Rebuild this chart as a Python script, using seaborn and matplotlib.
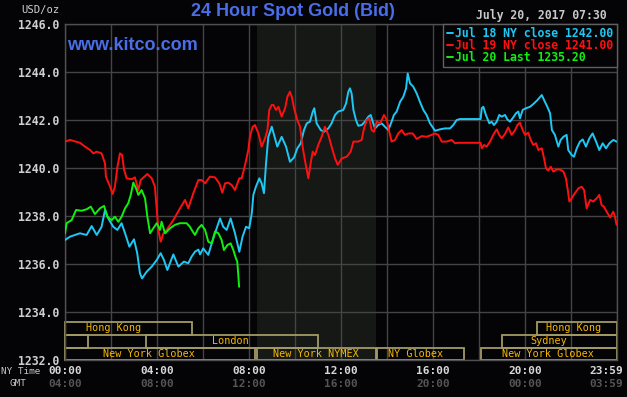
import matplotlib
matplotlib.use('Agg')
import matplotlib.pyplot as plt
import matplotlib.transforms as mtransforms
import seaborn as sns

# hours since NY midnight -> price (USD/oz)
jul18_hours = [0, 0.22, 0.43, 0.65, 0.94, 1.16, 1.38, 1.59, 1.74, 1.88, 2.10, 2.28, 2.46, 2.61, 2.80,
               3.0, 3.14, 3.26, 3.35, 3.55, 3.77, 3.99, 4.16, 4.30, 4.45, 4.71, 4.93, 5.17, 5.36, 5.50,
               5.65, 5.80, 5.87, 6.01, 6.23, 6.38, 6.52, 6.74, 6.88, 7.03, 7.20, 7.39, 7.58, 7.72, 7.87,
               8.01, 8.12, 8.19, 8.30, 8.45, 8.55, 8.65, 8.74, 8.84, 8.99, 9.13, 9.23, 9.42, 9.61, 9.78,
               9.96, 10.1, 10.25, 10.39, 10.51, 10.65, 10.77, 10.84, 10.94, 11.12, 11.26, 11.45, 11.59,
               11.74, 11.88, 12.10, 12.22, 12.32, 12.39, 12.46, 12.54, 12.65, 12.75, 12.90, 13.04, 13.19,
               13.29, 13.38, 13.48, 13.62, 13.77, 13.91, 14.06, 14.20, 14.30, 14.42, 14.57, 14.71, 14.83,
               14.90, 15.0, 15.14, 15.29, 15.43, 15.58, 15.72, 15.87, 16.09, 16.30, 16.52, 16.74, 16.88,
               17.03, 17.17, 17.35, 18.07, 18.12, 18.19, 18.30, 18.45, 18.55, 18.65, 18.77, 18.88, 18.99,
               19.13, 19.23, 19.35, 19.49, 19.61, 19.71, 19.78, 19.90, 20.04, 20.22, 20.39, 20.54, 20.73,
               20.83, 20.97, 21.09, 21.17, 21.30, 21.45, 21.55, 21.67, 21.81, 21.88, 22.03, 22.13, 22.25,
               22.39, 22.51, 22.65, 22.80, 22.94, 23.09, 23.23, 23.38, 23.52, 23.67, 23.84, 23.98]
jul18_price = [1237.00, 1237.14, 1237.21, 1237.28, 1237.21, 1237.58, 1237.21, 1237.55, 1238.25, 1237.90,
               1237.55, 1237.42, 1237.70, 1237.28, 1236.72, 1237.03, 1236.45, 1235.61, 1235.40, 1235.68,
               1235.89, 1236.17, 1236.45, 1236.17, 1235.75, 1236.40, 1235.89, 1236.10, 1236.03, 1236.30,
               1236.51, 1236.60, 1236.40, 1236.65, 1236.38, 1236.86, 1237.28, 1237.90, 1237.55, 1237.42,
               1237.90, 1237.28, 1236.51, 1237.14, 1237.55, 1237.49, 1238.11, 1238.88, 1239.22, 1239.57,
               1239.36, 1238.95, 1240.19, 1241.30, 1241.72, 1241.24, 1240.89, 1241.30, 1240.89, 1240.26,
               1240.44, 1240.82, 1241.03, 1241.58, 1241.86, 1241.93, 1242.34, 1242.49, 1241.86, 1241.58,
               1241.51, 1241.65, 1241.86, 1242.21, 1242.35, 1242.42, 1242.69, 1243.18, 1243.32, 1243.11,
               1242.42, 1242.00, 1241.76, 1241.79, 1241.93, 1242.14, 1242.21, 1241.93, 1241.65, 1241.79,
               1241.86, 1241.72, 1241.58, 1241.93, 1242.21, 1242.35, 1242.76, 1242.97, 1243.32, 1243.94,
               1243.53, 1243.39, 1243.11, 1242.76, 1242.42, 1242.21, 1241.86, 1241.55, 1241.61, 1241.65,
               1241.65, 1241.79, 1242.00, 1242.04, 1242.04, 1242.04, 1242.49, 1242.55, 1242.21, 1241.86,
               1241.93, 1241.79, 1241.93, 1242.21, 1242.14, 1242.21, 1242.03, 1241.93, 1242.11, 1242.28,
               1242.35, 1242.07, 1242.42, 1242.49, 1242.55, 1242.69, 1242.83, 1243.04, 1242.83, 1242.55,
               1242.28, 1241.58, 1241.38, 1240.89, 1241.17, 1241.30, 1241.38, 1240.75, 1240.54, 1240.47,
               1240.82, 1241.10, 1241.19, 1240.89, 1241.24, 1241.44, 1241.10, 1240.75, 1241.03, 1240.82,
               1241.03, 1241.17, 1241.10]

jul19_hours = [0, 0.22, 0.65, 0.87, 1.09, 1.23, 1.38, 1.59, 1.74, 1.78, 1.96, 2.07, 2.17, 2.28, 2.39,
               2.48, 2.57, 2.68, 2.90, 3.04, 3.19, 3.29, 3.58, 3.77, 3.91, 3.99, 4.06, 4.16, 4.28, 4.42,
               4.71, 5.0, 5.22, 5.36, 5.58, 5.80, 5.94, 6.09, 6.30, 6.52, 6.71, 6.84, 6.96, 7.10, 7.25,
               7.39, 7.58, 7.68, 7.83, 7.97, 8.04, 8.16, 8.26, 8.41, 8.55, 8.70, 8.80, 8.88, 8.99, 9.06,
               9.17, 9.28, 9.42, 9.57, 9.67, 9.78, 9.86, 9.96, 10.1, 10.22, 10.33, 10.43, 10.58, 10.68,
               10.77, 10.87, 11.01, 11.16, 11.30, 11.45, 11.59, 11.74, 11.86, 12.03, 12.25, 12.42, 12.54,
               12.75, 12.90, 13.0, 13.12, 13.23, 13.33, 13.43, 13.55, 13.70, 13.87, 13.99, 14.10, 14.20,
               14.35, 14.49, 14.64, 14.78, 14.93, 15.12, 15.29, 15.51, 15.72, 15.94, 16.09, 16.23, 16.38,
               16.59, 16.81, 16.96, 17.10, 17.35, 18.07, 18.12, 18.22, 18.33, 18.48, 18.62, 18.77, 18.88,
               18.99, 19.13, 19.27, 19.42, 19.57, 19.67, 19.78, 19.90, 20.0, 20.14, 20.25, 20.36, 20.48,
               20.58, 20.73, 20.83, 20.91, 21.01, 21.12, 21.23, 21.38, 21.52, 21.67, 21.78, 21.86, 21.93,
               22.03, 22.17, 22.32, 22.46, 22.57, 22.68, 22.83, 22.97, 23.12, 23.23, 23.33, 23.43, 23.55,
               23.70, 23.84, 23.91, 23.98]
jul19_price = [1241.10, 1241.17, 1241.05, 1240.89, 1240.75, 1240.61, 1240.68, 1240.61, 1240.19, 1239.64,
               1239.22, 1238.92, 1239.22, 1240.05, 1240.61, 1240.54, 1239.92, 1239.57, 1239.53, 1239.61,
               1239.08, 1239.50, 1239.75, 1239.57, 1239.22, 1238.25, 1237.42, 1236.93, 1237.28, 1237.42,
               1237.83, 1238.32, 1238.67, 1238.32, 1238.95, 1239.50, 1239.50, 1239.36, 1239.64, 1239.61,
               1239.36, 1238.97, 1239.36, 1239.39, 1239.29, 1239.08, 1239.57, 1239.57, 1240.13, 1240.75,
               1241.30, 1241.72, 1241.79, 1241.44, 1240.89, 1241.24, 1241.58, 1242.42, 1242.63, 1242.63,
               1242.42, 1242.55, 1242.14, 1242.49, 1242.97, 1243.18, 1242.97, 1242.49, 1242.00, 1241.72,
               1240.89, 1240.33, 1239.57, 1240.19, 1240.68, 1240.54, 1240.96, 1241.30, 1241.72, 1241.38,
               1240.89, 1240.40, 1240.13, 1240.40, 1240.47, 1240.68, 1241.10, 1241.10, 1241.17, 1241.65,
               1242.00, 1242.07, 1241.58, 1241.51, 1241.93, 1241.86, 1242.21, 1242.00, 1241.51, 1241.10,
               1241.17, 1241.44, 1241.58, 1241.38, 1241.44, 1241.44, 1241.21, 1241.33, 1241.30, 1241.38,
               1241.44, 1241.38, 1241.10, 1241.10, 1241.17, 1241.03, 1241.05, 1241.05, 1241.05, 1240.82,
               1240.96, 1240.89, 1241.10, 1241.38, 1241.61, 1241.38, 1241.24, 1241.42, 1241.69, 1241.38,
               1241.58, 1241.79, 1241.89, 1241.58, 1241.38, 1241.47, 1241.17, 1240.96, 1241.03, 1240.75,
               1240.82, 1240.40, 1239.99, 1239.89, 1240.05, 1239.85, 1239.94, 1239.94, 1239.85, 1239.57,
               1239.08, 1238.60, 1238.74, 1238.95, 1239.15, 1239.22, 1239.08, 1238.32, 1238.67, 1238.60,
               1238.74, 1238.88, 1238.46, 1238.39, 1238.18, 1237.94, 1238.18, 1237.97, 1237.63]

jul20_hours = [0, 0.07, 0.29, 0.48, 0.72, 0.94, 1.12, 1.30, 1.52, 1.70, 1.84, 2.03, 2.17, 2.32, 2.46,
               2.61, 2.75, 2.86, 2.97, 3.09, 3.19, 3.33, 3.48, 3.58, 3.70, 3.84, 3.99, 4.13, 4.20, 4.35,
               4.57, 4.78, 5.0, 5.29, 5.43, 5.51, 5.65, 5.80, 5.94, 6.09, 6.23, 6.38, 6.52, 6.67, 6.81,
               6.91, 7.06, 7.20, 7.32, 7.43, 7.49, 7.54, 7.57]
jul20_price = [1237.28, 1237.70, 1237.83, 1238.25, 1238.22, 1238.28, 1238.39, 1238.08, 1238.32, 1238.42,
               1237.97, 1237.83, 1237.97, 1237.76, 1237.97, 1238.32, 1238.53, 1238.88, 1239.39, 1239.15,
               1238.88, 1239.08, 1238.74, 1237.97, 1237.28, 1237.49, 1237.70, 1237.42, 1237.76, 1237.28,
               1237.49, 1237.63, 1237.70, 1237.70, 1237.55, 1237.42, 1237.21, 1237.49, 1237.63, 1237.42,
               1236.93, 1236.86, 1237.35, 1237.28, 1237.00, 1236.58, 1236.79, 1236.86, 1236.58, 1236.24,
               1236.10, 1235.47, 1235.05]

series_labels = ['Jul 18 NY close 1242.00', 'Jul 19 NY close 1241.00', 'Jul 20 Last 1235.20']

# trading sessions: name, start hour, end hour, row (0 = top), where the name sits
session_names = ['Hong Kong', '', 'London', 'New York Globex', 'New York NYMEX', 'NY Globex',
                 'New York Globex', 'Sydney', 'Hong Kong']
session_start = [0, 0, 3.5, 0, 8.33, 13.55, 18.07, 19.0, 20.5]
session_end = [5.5, 0.98, 11.0, 8.25, 13.5, 17.35, 24.0, 24.0, 24.0]
session_row = [0, 1, 1, 2, 2, 2, 2, 1, 0]
session_label_at = [2.13, 0, 7.2, 3.65, 10.9, 15.25, 21.0, 21.03, 22.1]

nymex_open, nymex_close = 8.33, 13.5

ny_labels = ['00:00', '04:00', '08:00', '12:00', '16:00', '20:00', '23:59']
gmt_labels = ['04:00', '08:00', '12:00', '16:00', '20:00', '00:00', '03:59']
label_hours = [0, 4, 8, 12, 16, 20, 24]
price_ticks = [1232, 1234, 1236, 1238, 1240, 1242, 1244, 1246]

bg = '#040406'
sns.set_theme(style='dark', rc={'figure.facecolor': bg, 'axes.facecolor': bg,
                                'axes.edgecolor': '#505050', 'grid.color': '#444444'})
plt.rcParams['font.family'] = ['DejaVu Sans Mono', 'DejaVu Sans']

fig = plt.figure(figsize=(6.27, 3.97), dpi=100)
ax = fig.add_axes([65 / 627, 37 / 397, 552 / 627, 336 / 397])

ax.axvspan(nymex_open, nymex_close, color='#151815', zorder=0, lw=0)

colors = ['#1ec8f5', '#ff1010', '#10f010']
for hrs, prc, col, lab in zip([jul18_hours, jul19_hours, jul20_hours],
                              [jul18_price, jul19_price, jul20_price], colors, series_labels):
    sns.lineplot(x=hrs, y=prc, color=col, linewidth=1.4, label=lab, ax=ax, zorder=3,
                 estimator=None, sort=False)

# session boxes
row_bottom = [1233.06, 1232.52, 1232.0]
row_h = 0.52
for name, s, e, r, at in zip(session_names, session_start, session_end, session_row,
                             session_label_at):
    ax.barh(row_bottom[r], e - s, left=s, height=row_h, align='edge', facecolor='none',
            edgecolor='#a29a66', linewidth=1.3, zorder=2, clip_on=False)
    if name:
        ax.text(at, row_bottom[r] + row_h / 2, name, color='#f8b800', fontsize=7.3,
                ha='center', va='center', zorder=4)

ax.set_xlim(0, 24)
ax.set_ylim(1232, 1246)
ax.set_xticks(range(0, 25, 2))
ax.set_xticklabels([])
ax.set_yticks(price_ticks)
ax.set_yticklabels([f'{p:.1f}' for p in price_ticks], fontsize=8.3, color='#d0d0d0',
                   fontweight='bold')
ax.tick_params(length=0, pad=4)
ax.grid(True, linewidth=1.0)
ax.set_xlabel('')
ax.set_ylabel('')
for sp in ax.spines.values():
    sp.set_color('#505050')
    sp.set_linewidth(1.0)

# time labels below the axis
trans = mtransforms.blended_transform_factory(ax.transData, fig.transFigure)
for h, ny, gmt in zip(label_hours, ny_labels, gmt_labels):
    ha = 'center'
    xx = h
    if h == 24:
        xx, ha = 24.27, 'right'
    ax.text(xx, 1 - 371 / 397, ny, transform=trans, ha=ha, va='center', fontsize=8.0,
            color='#d8d8d8', fontweight='bold')
    ax.text(xx, 1 - 384 / 397, gmt, transform=trans, ha=ha, va='center', fontsize=8.0,
            color='#555555', fontweight='bold')
fig.text(1 / 627, 1 - 371 / 397, 'NY Time', ha='left', va='center', fontsize=6.7, color='#c8c8c8')
fig.text(9 / 627, 1 - 384 / 397, 'GMT', ha='left', va='center', fontsize=6.7, color='#c8c8c8')

fig.text(60 / 627, 1 - 10 / 397, 'USD/oz', ha='right', va='center', fontsize=7.6, color='#d0d0d0')
fig.text(293 / 627, 1 - 12 / 397, '24 Hour Spot Gold (Bid)', ha='center', va='center',
         fontsize=13, color='#4a6ee8', fontweight='bold', family='Liberation Sans')
fig.text(607 / 627, 1 - 15 / 397, 'July 20, 2017 07:30', ha='right', va='center', fontsize=8.3,
         color='#c8c8c8', fontweight='bold')
ax.text(67 / 627, 1 - 45 / 397, 'www.kitco.com', transform=fig.transFigure, ha='left',
        va='center', fontsize=13, color='#4a6ee8', fontweight='bold', family='Liberation Sans',
        zorder=5)

leg = ax.legend(loc='upper right', bbox_to_anchor=(1, 1), borderaxespad=0, frameon=True,
                fancybox=False, facecolor=bg, edgecolor='#606060', framealpha=1,
                handlelength=0.5, handletextpad=0.25, labelspacing=-0.12, borderpad=0.3,
                labelcolor='linecolor', prop={'family': 'DejaVu Sans Mono', 'weight': 'bold',
                                              'size': 8.3})
leg.get_frame().set_linewidth(1.0)
leg.set_zorder(6)

fig.savefig('out.png', dpi=100, facecolor=bg)
